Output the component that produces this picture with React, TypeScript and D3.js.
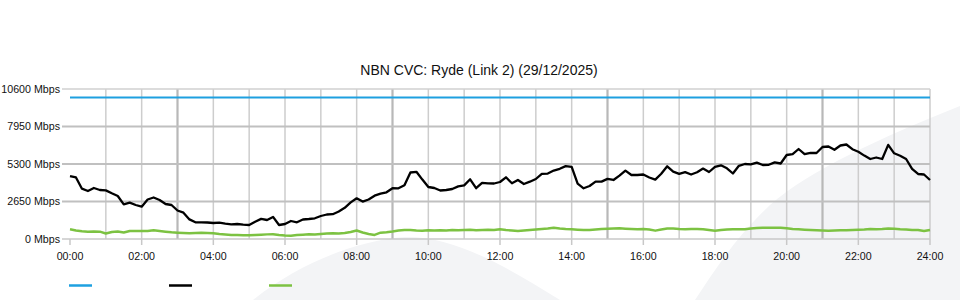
import React from "react";
import * as d3 from "d3";

// ---- data ----
const TITLE = "NBN CVC: Ryde (Link 2) (29/12/2025)";
const Y_TICKS = [0, 2650, 5300, 7950, 10600];
const X_TICK_LABELS = ["00:00","02:00","04:00","06:00","08:00","10:00","12:00","14:00","16:00","18:00","20:00","22:00","24:00"];
// sample times in minutes from midnight, 10-minute steps
const TIMES = d3.range(0, 1441, 10);
const CAPACITY = 10000; // Mbps (blue)
const TRAFFIC = [
  4450, 4350, 3555, 3392, 3604, 3463, 3435, 3230, 3039, 2452,
  2572, 2403, 2283, 2791, 2933, 2756, 2473, 2403, 2014, 1859,
  1385, 1180, 1173, 1166, 1131, 1152, 1088, 1039, 1060, 1018,
  989, 1223, 1420, 1343, 1560, 989, 1060, 1272, 1180, 1378,
  1413, 1463, 1625, 1731, 1753, 1943, 2205, 2587, 2876, 2643,
  2791, 3060, 3201, 3300, 3590, 3583, 3795, 4700, 4750, 4198,
  3675, 3604, 3427, 3463, 3534, 3717, 3788, 4219, 3590, 3972,
  3929, 3922, 4028, 4360, 3936, 4170, 3887, 4050, 4240, 4608,
  4622, 4834, 4961, 5152, 5100, 3915, 3583, 3745, 4056, 4056,
  4247, 4170, 4480, 4834, 4523, 4523, 4558, 4346, 4191, 4608,
  5138, 4763, 4601, 4721, 4558, 4714, 4975, 4735, 5102, 5208,
  4996, 4629, 5173, 5300, 5272, 5392, 5230, 5244, 5413, 5335,
  5936, 5993, 6360, 5993, 6085, 6078, 6502, 6537, 6304, 6608,
  6678, 6346, 6170, 5894, 5654, 5760, 5654, 6650, 6056, 5887,
  5654, 4961, 4594, 4558, 4170
];
const OTHER = [
  686, 600, 545, 516, 530, 516, 390, 495, 530, 460,
  565, 565, 565, 565, 615, 565, 516, 473, 445, 424,
  403, 424, 445, 424, 403, 353, 318, 283, 283, 269,
  262, 283, 304, 325, 332, 283, 247, 233, 283, 304,
  332, 318, 353, 389, 403, 389, 424, 495, 600, 460,
  353, 283, 445, 473, 530, 600, 636, 636, 600, 587,
  615, 600, 615, 600, 636, 615, 636, 657, 622, 636,
  650, 636, 686, 636, 600, 565, 600, 636, 671, 707,
  742, 799, 742, 707, 686, 657, 636, 636, 671, 707,
  728, 742, 756, 728, 707, 686, 707, 671, 587, 671,
  742, 742, 707, 686, 707, 707, 686, 636, 587, 636,
  671, 686, 686, 686, 742, 777, 799, 799, 799, 792,
  756, 707, 686, 657, 636, 622, 600, 587, 600, 615,
  622, 636, 657, 671, 707, 686, 707, 742, 728, 686,
  671, 636, 636, 565, 636
];
const LEGEND_COLORS = ["#1ea0e0", "#000000", "#7cc242"];

export default function App() {
  const W = 960, H = 300;
  const x = d3.scaleLinear().domain([0, 1440]).range([70, 930]);
  const y = d3.scaleLinear().domain([0, 10600]).range([239, 89]);
  const line = d3.line<number>().x((_, i) => x(TIMES[i])).y(d => y(d));
  const font = "'Liberation Sans', Arial, sans-serif";
  const hours = d3.range(60, 1440 + 1, 60);
  const thick = new Set([180, 540, 900, 1260]);

  return (
    <svg width={W} height={H} style={{ position: "absolute", left: 0, top: 0, background: "#fff" }} fontFamily={font}>
      {/* background watermark */}
      <path d="M 253 300 C 300 262, 360 240, 405 237 C 450 236, 500 262, 560 300 Z" fill="#f3f4f6" />
      <path d="M 695 300 C 715 270, 735 238, 770 205 C 810 170, 880 138, 960 106 L 960 300 Z" fill="#f3f4f6" />
      <text x={479} y={75} textAnchor="middle" fontSize={14} fill="#111">{TITLE}</text>
      {/* vertical gridlines */}
      {hours.map(m => (
        <line key={"v" + m} x1={x(m)} x2={x(m)} y1={89} y2={239}
          stroke={thick.has(m) ? "#b8b8b8" : "#cdcdcd"} strokeWidth={thick.has(m) ? 2.2 : 1.5} />
      ))}
      {/* horizontal gridlines */}
      {Y_TICKS.map((t, i) => (
        <line key={"h" + t} x1={62} x2={930} y1={y(t)} y2={y(t)}
          stroke={i === 0 ? "#c8c8c8" : i === Y_TICKS.length - 1 ? "#d0d0d0" : "#c0c0c0"} strokeWidth={i === 0 || i === Y_TICKS.length - 1 ? 1.5 : 2} />
      ))}
      {Y_TICKS.map(t => (
        <text key={"yl" + t} x={60} y={y(t) + 3.5} textAnchor="end" fontSize={10.67} fill="#111">{t} Mbps</text>
      ))}
      {X_TICK_LABELS.map((l, i) => (
        <g key={"xl" + l}>
          <line x1={x(i * 120)} x2={x(i * 120)} y1={239} y2={245} stroke="#c8c8c8" strokeWidth={1.5} />
          <text x={x(i * 120)} y={260} textAnchor="middle" fontSize={10.67} fill="#111">{l}</text>
        </g>
      ))}
      {/* series */}
      <line x1={x(0)} x2={x(1440)} y1={y(CAPACITY)} y2={y(CAPACITY)} stroke={LEGEND_COLORS[0]} strokeWidth={2.2} />
      <path d={line(OTHER) || ""} fill="none" stroke={LEGEND_COLORS[2]} strokeWidth={2.4} strokeLinejoin="round" />
      <path d={line(TRAFFIC) || ""} fill="none" stroke={LEGEND_COLORS[1]} strokeWidth={2.3} strokeLinejoin="round" />
      {/* legend */}
      {LEGEND_COLORS.map((c, i) => (
        <line key={"lg" + i} x1={69 + i * 100} x2={92 + i * 100} y1={285.5} y2={285.5} stroke={c} strokeWidth={2.5} />
      ))}
    </svg>
  );
}
